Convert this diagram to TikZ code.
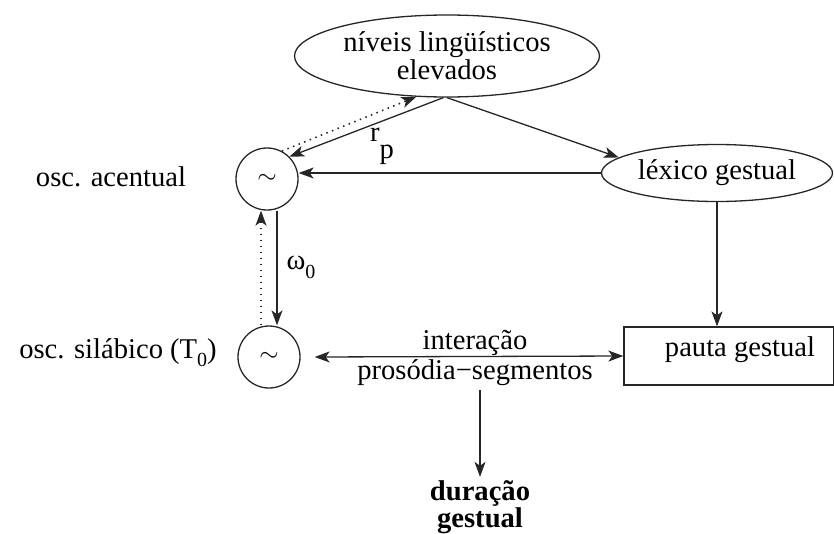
\documentclass[tikz,border=0pt]{standalone}
\usepackage{fontspec}
\setmainfont{Liberation Serif}
\usetikzlibrary{shapes.geometric,arrows.meta}
\begin{document}
\begin{tikzpicture}[x=1pt,y=-1pt,
  font=\fontsize{28.6}{28}\selectfont,
  tip/.tip={Stealth[length=15pt,width=11pt,inset=4pt]},
  arr/.style={line width=1.3pt, draw=black!85, -tip},
  dots/.style={line width=1.6pt, draw=black!85, dash pattern=on 1.5pt off 4.5pt, -tip},
  ell/.style={ellipse, draw=black!85, line width=1.3pt, inner sep=0pt},
  osc/.style={circle, draw=black!85, line width=1.3pt, minimum size=62pt, inner sep=0pt}]
\useasboundingbox (0,0) rectangle (834,533);
\node[ell, minimum width=305pt, minimum height=82pt, align=center] (top) at (447,56) {níveis lingüísticos\\elevados};
\node[osc] (acc) at (267,179) {$\sim$};
\node[osc] (syl) at (269,357) {$\sim$};
\node[ell, minimum width=231pt, minimum height=57pt] (lex) at (717,173) {léxico gestual};
\node[draw=black!85, line width=1.3pt, minimum width=210pt, minimum height=58pt] (box) at (729,356) {};
\node (pauta) at (740,350) {pauta gestual};
\node (lacc) at (111,177) {osc. acentual};
\node (lsyl) at (118,353) {osc. silábico (T\raisebox{-8pt}{\fontsize{20}{20}\selectfont 0})};
\node (inter) at (475,343) {interação};
\node (pros) at (475,373) {prosódia−segmentos};
\node[font=\fontsize{28.6}{27}\selectfont\bfseries, align=center] (dur) at (480,507) {duração\\gestual};
\node (rp) at (382,146) {r\raisebox{-17pt}{p}};
\node (om) at (301,267) {ω\raisebox{-9pt}{\fontsize{20}{20}\selectfont 0}};
\draw[arr] (top.265) -- (acc.45);
\draw[dots] (acc.62) -- (top.233);
\draw[arr] (top.south) -- (lex.171);
\draw[arr] (lex.west) -- (lex.west -| acc.east);
\draw[arr] (lex.south) -- (lex.south |- box.north);
\draw[arr] ([xshift=10pt]acc.south) -- ([xshift=10pt]acc.south |- syl.north);
\draw[dots] ([xshift=-8pt]syl.north) -- ([xshift=-8pt]syl.north |- acc.south);
\draw[arr, tip-tip] ([xshift=14pt]syl.east) -- (box.west);
\draw[arr] (dur.north |- pros.south) -- (dur.north);
\end{tikzpicture}
\end{document}
